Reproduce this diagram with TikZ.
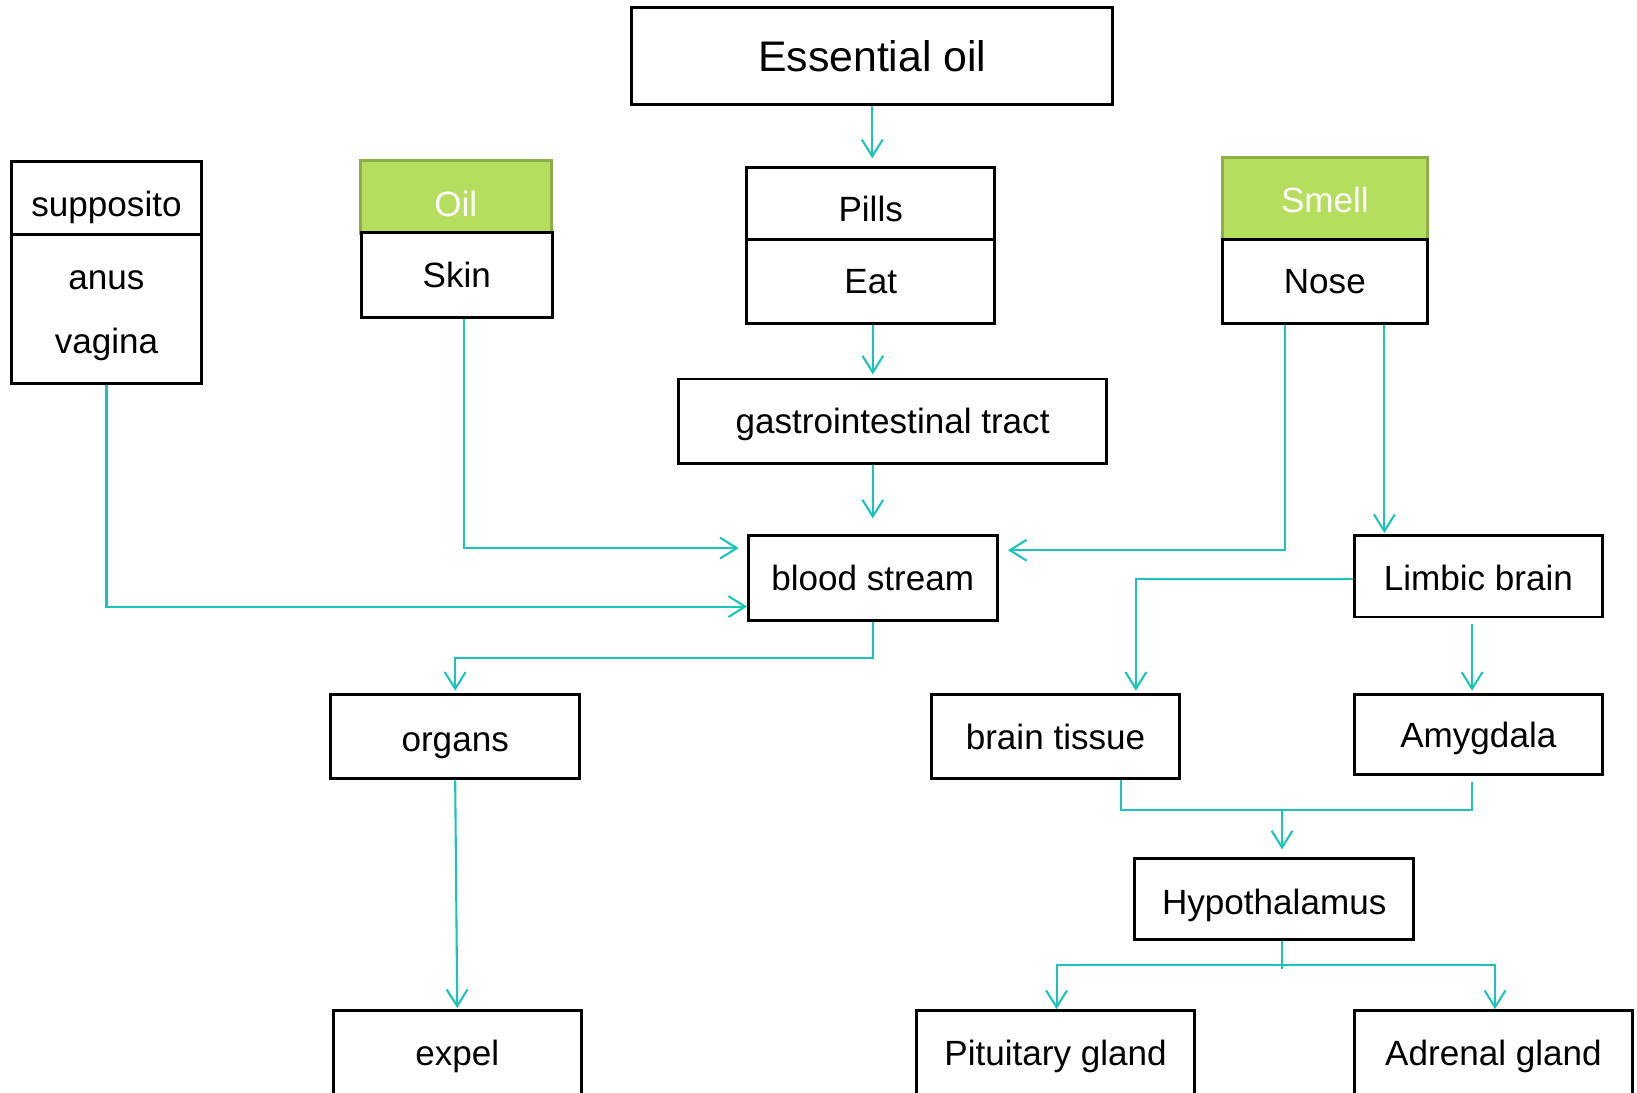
\documentclass[tikz,border=0pt]{standalone}
\usepackage{fontspec}
\setmainfont{Liberation Sans}
\usetikzlibrary{arrows.meta,calc}
\definecolor{teal1}{HTML}{1BC4BB}
\definecolor{gfill}{HTML}{B5DE5E}
\definecolor{gline}{HTML}{8CAF48}
\tikzset{
  bx/.style={draw=black, line width=1.4pt, fill=white, inner sep=0pt, text height=12pt, text depth=0pt, font=\fontsize{16.8}{20}\selectfont},
  gbx/.style={draw=gline, line width=1.4pt, fill=gfill, inner sep=0pt, text height=12pt, text depth=0pt, text=white, font=\fontsize{16.8}{20}\selectfont},
  conn/.style={draw=teal1, line width=1pt, -{Straight Barb[length=8pt,width=10pt,line width=1pt]}},
  plain/.style={draw=teal1, line width=1pt},
}
\begin{document}
\begin{tikzpicture}[x=0.5pt,y=-0.5pt]
\useasboundingbox (0,0) rectangle (1568,1046);
\clip (0,0) rectangle (1568,1046);
% nodes
\node[bx, minimum width=230.5pt, minimum height=46.5pt, text height=14.7pt, font=\fontsize{20.5}{24}\selectfont] (eo) at (835.5,53.5) {Essential oil};
\node[bx, minimum width=91pt, minimum height=71pt, align=center, text height=43pt, font=\fontsize{16.8}{31}\selectfont] (anus) at (102,296) {anus\\vagina};
\node[bx, minimum width=91pt, minimum height=35pt, text height=17.5pt] (supp) at (102,190) {supposito};
\node[gbx, minimum width=91.5pt, minimum height=35pt, text height=18pt] (oil) at (436.5,189) {Oil};
\node[bx, minimum width=91.5pt, minimum height=40.5pt] (skin) at (437.5,263.5) {Skin};
\node[bx, minimum width=119pt, minimum height=34.5pt, text height=18pt] (pills) at (834,194.5) {Pills};
\node[bx, minimum width=119pt, minimum height=40.5pt] (eat) at (834,269.5) {Eat};
\node[gbx, minimum width=98pt, minimum height=39pt, text height=14pt] (smell) at (1269,190) {Smell};
\node[bx, minimum width=98pt, minimum height=40.5pt] (nose) at (1269,269.5) {Nose};
\node[bx, minimum width=205pt, minimum height=40.5pt] (gi) at (855,403.5) {gastrointestinal tract};
\node[bx, minimum width=119pt, minimum height=40.5pt] (blood) at (836,553.5) {blood stream};
\node[bx, minimum width=119pt, minimum height=39pt, text height=14pt] (limbic) at (1416,552) {Limbic brain};
\node[bx, minimum width=119pt, minimum height=40.5pt, text height=14.5pt] (organs) at (436,705.5) {organs};
\node[bx, minimum width=119pt, minimum height=40.5pt] (bt) at (1011,705.5) {brain tissue};
\node[bx, minimum width=119pt, minimum height=38.5pt] (amy) at (1416,703.5) {Amygdala};
\node[bx, minimum width=133.5pt, minimum height=39pt, text height=14.5pt] (hypo) at (1220.5,861) {Hypothalamus};
\node[bx, minimum width=119pt, minimum height=40.5pt] (expel) at (438,1008.5) {expel};
\node[bx, minimum width=133pt, minimum height=40.5pt] (pit) at (1011,1008.5) {Pituitary gland};
\node[bx, minimum width=133.5pt, minimum height=40.5pt] (adr) at (1430.5,1008.5) {Adrenal gland};
% connectors
\draw[conn, shorten >=3.5pt] (eo.south) -- (eo.south |- pills.north);
\draw[conn, shorten >=1.5pt] (836,0 |- eat.south) -- (836,0 |- gi.north);
\draw[conn, shorten >=7.5pt] (blood.north |- gi.south) -- (blood.north);
\draw[conn, shorten >=4pt] (444,0 |- skin.south) |- ($(blood.west)+(0,-28.5)$);
\draw[conn] (anus.south) |- ($(blood.west)+(0,27.5)$);
\draw[conn, shorten >=4.5pt] (1231,0 |- nose.south) |- ($(blood.east)+(0,-26.5)$);
\draw[conn, shorten >=0.5pt] (1326,0 |- nose.south) -- (1326,0 |- limbic.north);
\draw[conn, shorten >=1pt] ($(limbic.west)+(0,3)$) -| (1088,0 |- bt.north);
\draw[conn, shorten >=1pt] ($(1410,0 |- limbic.south)+(0,5)$) -- (1410,0 |- amy.north);
\draw[conn, shorten >=1pt] (blood.south) -- ++(0,35) -| (organs.north);
\draw[conn, shorten >=0.5pt] (organs.south) -- (expel.north);
\coordinate (jn) at (1228,776);
\draw[plain] (1074,0 |- bt.south) |- (jn) -| ($(1410,0 |- amy.south)+(0,6)$);
\draw[conn, shorten >=3.5pt] (jn) -- (1228,0 |- hypo.north);
\coordinate (jh) at (1228,924);
\draw[plain] (1228,0 |- hypo.south) -- ++(0,27);
\draw[conn] (jh) -| (1012,0 |- pit.north);
\draw[conn] (jh) -| (1432,0 |- adr.north);
\end{tikzpicture}
\end{document}
